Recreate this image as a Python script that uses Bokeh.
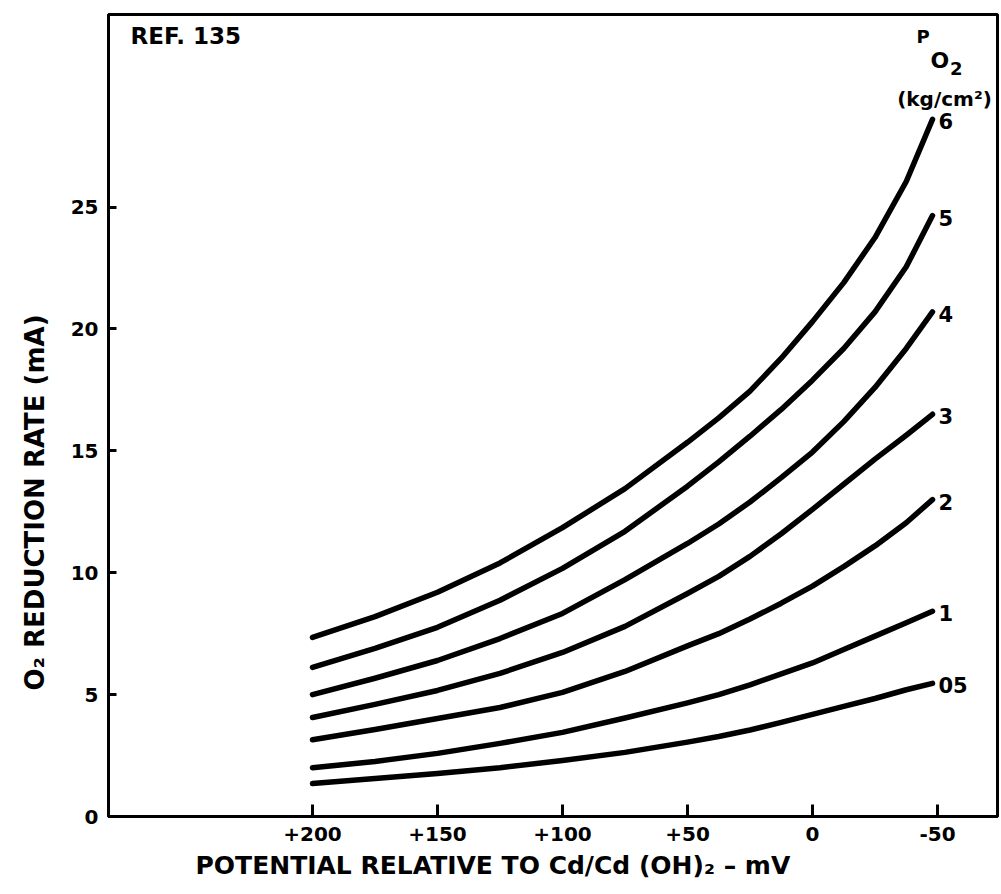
from bokeh.plotting import figure
from bokeh.models import Range1d, FixedTicker, Label, ColumnDataSource, Title
from bokeh.core.properties import value
from bokeh.embed import file_html
from bokeh.resources import INLINE

# ---- data ----
potential_mV = [200, 175, 150, 125, 100, 75, 50, 37.5, 25, 12.5, 0, -12.5, -25, -37.5, -48]

rate_p6 = [7.35, 8.2, 9.2, 10.4, 11.85, 13.45, 15.35, 16.35, 17.45, 18.8, 20.3, 21.9, 23.75, 26.05, 28.6]
rate_p5 = [6.12, 6.9, 7.76, 8.87, 10.18, 11.7, 13.55, 14.55, 15.6, 16.7, 17.9, 19.2, 20.7, 22.55, 24.65]
rate_p4 = [5.0, 5.67, 6.4, 7.3, 8.33, 9.72, 11.2, 12.0, 12.9, 13.9, 14.95, 16.2, 17.6, 19.2, 20.7]
rate_p3 = [4.06, 4.6, 5.17, 5.87, 6.73, 7.8, 9.15, 9.85, 10.67, 11.6, 12.6, 13.63, 14.66, 15.64, 16.5]
rate_p2 = [3.15, 3.57, 4.02, 4.47, 5.09, 5.95, 7.0, 7.5, 8.1, 8.75, 9.45, 10.25, 11.1, 12.05, 13.0]
rate_p1 = [2.0, 2.26, 2.59, 3.0, 3.45, 4.04, 4.66, 5.0, 5.4, 5.85, 6.3, 6.85, 7.4, 7.95, 8.42]
rate_p05 = [1.35, 1.56, 1.76, 2.0, 2.3, 2.63, 3.05, 3.28, 3.55, 3.86, 4.19, 4.52, 4.84, 5.2, 5.46]

series_labels = ["6", "5", "4", "3", "2", "1", "05"]
series_values = [rate_p6, rate_p5, rate_p4, rate_p3, rate_p2, rate_p1, rate_p05]

x_ticks = [200, 150, 100, 50, 0, -50]
x_tick_labels = ["+200", "+150", "+100", "+50", "0", "-50"]
y_ticks = [0, 5, 10, 15, 20, 25]

FONT = "DejaVu Sans"

p = figure(width=999, height=894, output_backend="svg", toolbar_location=None,
           x_range=Range1d(281.6, -74.0), y_range=Range1d(0, 32.9),
           min_border_left=108, min_border_right=2, min_border_top=14, min_border_bottom=78)

p.background_fill_color = "white"
p.border_fill_color = "white"
p.outline_line_color = "black"
p.outline_line_width = 3
p.xgrid.visible = False
p.ygrid.visible = False

# axes
p.xaxis.ticker = FixedTicker(ticks=x_ticks)
p.xaxis.major_label_overrides = {t: s for t, s in zip(x_ticks, x_tick_labels)}
p.yaxis.ticker = FixedTicker(ticks=y_ticks)
for ax in (p.xaxis, p.yaxis):
    ax.axis_line_color = "black"
    ax.axis_line_width = 3
    ax.major_tick_line_color = "black"
    ax.major_tick_line_width = 3
    ax.major_tick_out = 0
    ax.minor_tick_line_color = None
    ax.major_label_text_font = FONT
    ax.major_label_text_font_style = "bold"
    ax.major_label_text_font_size = "20px"
    ax.major_label_text_color = "black"
p.xaxis.major_tick_in = 12
p.yaxis.major_tick_in = 8
p.xaxis.major_label_standoff = 10
p.yaxis.major_label_standoff = 10

# axis titles, offset like the reference
p.add_layout(Title(text="POTENTIAL RELATIVE TO Cd/Cd (OH)₂ – mV", align="left", offset=87,
                   text_font=FONT, text_font_style="bold", text_font_size="25px",
                   text_color="black", standoff=10), "below")
p.add_layout(Title(text="O₂ REDUCTION RATE (mA)", align="left", offset=126,
                   text_font=FONT, text_font_style="bold", text_font_size="26px",
                   text_color="black", standoff=35), "left")

# curves
for vals in series_values:
    p.line(potential_mV, vals, line_color="black", line_width=5.5, line_cap="round", line_join="round")

# end labels
end_src = ColumnDataSource(dict(
    x=[potential_mV[-1]] * len(series_values),
    y=[v[-1] for v in series_values],
    t=series_labels))
p.text(x="x", y="y", text="t", source=end_src, x_offset=6, y_offset=2,
       text_font=value(FONT), text_font_style="bold", text_font_size="21px",
       text_baseline="middle", text_align="left", text_color="black")

# annotations
def lab(x, y, t, size, align="left"):
    p.add_layout(Label(x=x, y=y, text=t, text_font=FONT, text_font_style="bold",
                       text_font_size=size, text_baseline="middle", text_align=align,
                       text_color="black"))

lab(272.8, 32.0, "REF. 135", "23px")
lab(-41.6, 32.0, "P", "18px")
lab(-47.2, 31.0, "O", "22px")
lab(-55.0, 30.7, "2", "18px")
lab(-52.8, 29.45, "(kg/cm²)", "20px", "center")

open("out.html", "w").write(file_html(p, INLINE))
